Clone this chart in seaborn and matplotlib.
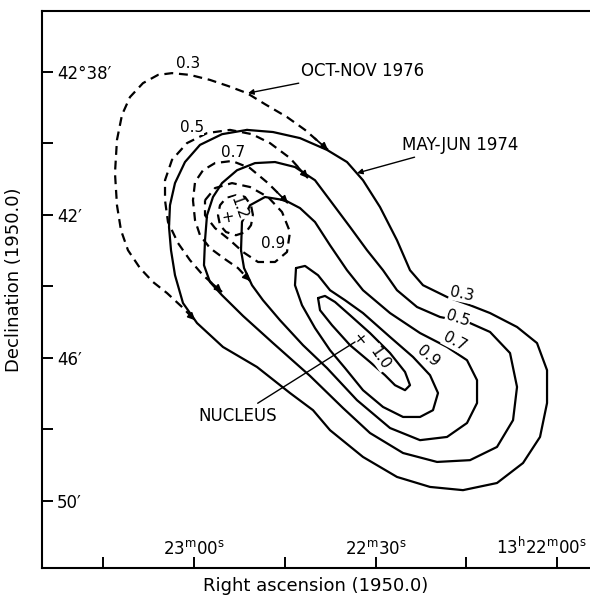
import matplotlib
matplotlib.use("Agg")
import matplotlib.pyplot as plt
import matplotlib.transforms as mtransforms
import seaborn as sns

# Contour paths.
# x = right ascension in seconds after 13h22m00s, y = declination in arcmin after 42d00'

# May-Jun 1974 (solid, closed)
may74_03 = [(51.24, 39.62), (46.94, 39.68), (42.48, 39.85), (38.02, 40.18), (34.71, 40.52),
            (32.07, 41.03), (29.26, 41.78), (26.45, 42.71), (24.30, 43.55), (22.15, 43.97),
            (18.18, 44.30), (14.38, 44.53), (11.07, 44.75), (6.61, 45.14), (3.31, 45.59),
            (1.65, 46.35), (1.65, 47.27), (2.81, 48.22), (5.62, 48.95), (9.92, 49.51),
            (15.54, 49.71), (20.99, 49.62), (26.45, 49.34), (32.07, 48.78), (37.52, 48.03),
            (40.33, 47.47), (44.13, 46.99), (49.59, 46.26), (55.21, 45.70), (59.50, 45.03),
            (61.82, 44.47), (63.14, 43.69), (63.80, 42.99), (64.13, 42.34), (63.97, 41.73),
            (63.14, 41.11), (61.49, 40.52), (59.01, 40.04), (55.37, 39.74)]
may74_05 = [(58.18, 42.71), (57.85, 42.01), (56.86, 41.50), (55.37, 41.11), (52.89, 40.75),
            (49.92, 40.55), (46.61, 40.52), (43.31, 40.66), (40.00, 41.03), (37.52, 41.59),
            (34.21, 42.34), (31.40, 42.99), (28.76, 43.55), (26.45, 44.11), (23.14, 44.58),
            (19.34, 44.86), (14.38, 45.03), (11.07, 45.28), (7.77, 45.87), (6.61, 46.82),
            (7.27, 47.75), (9.92, 48.50), (14.38, 48.87), (19.83, 48.92), (25.45, 48.67),
            (30.91, 48.11), (35.37, 47.41), (40.83, 46.51), (46.94, 45.59), (51.90, 44.83),
            (55.37, 44.25), (57.36, 43.88), (58.35, 43.41)]
may74_07 = [(52.23, 42.99), (52.07, 42.20), (50.74, 41.73), (48.26, 41.50), (44.96, 41.59),
            (42.48, 41.81), (40.00, 42.20), (37.52, 42.85), (34.71, 43.55), (32.07, 44.11),
            (27.60, 44.75), (22.64, 45.31), (18.18, 45.70), (14.88, 46.07), (13.22, 46.63),
            (13.22, 47.27), (14.88, 47.83), (18.18, 48.22), (22.64, 48.31), (27.60, 47.97),
            (33.06, 47.19), (38.02, 46.29), (41.98, 45.65), (45.79, 44.95), (48.60, 44.39),
            (50.41, 43.97), (51.73, 43.49)]
may74_09 = [(43.14, 43.49), (41.65, 43.43), (39.50, 43.69), (37.52, 44.11), (35.04, 44.39),
            (32.07, 44.75), (27.60, 45.42), (23.80, 45.98), (20.99, 46.49), (19.67, 46.99),
            (20.50, 47.47), (22.64, 47.66), (25.45, 47.66), (28.76, 47.38), (32.07, 46.91),
            (35.04, 46.29), (37.52, 45.79), (40.00, 45.17), (42.15, 44.53), (43.31, 43.97)]
may74_10 = [(39.50, 44.33), (38.35, 44.27), (36.69, 44.44), (34.21, 44.81), (30.91, 45.31),
            (27.60, 45.87), (25.12, 46.40), (24.30, 46.77), (25.12, 46.91), (26.78, 46.77),
            (28.43, 46.49), (30.91, 46.12), (34.21, 45.65), (37.19, 45.09), (39.17, 44.67)]

# Oct-Nov 1976 (dashed; the outer three run into the 1974 contours)
oct76_03 = [(37.85, 40.18), (41.65, 39.62), (44.63, 39.26), (48.26, 38.90), (51.24, 38.59),
            (54.38, 38.39), (57.36, 38.22), (60.66, 38.08), (63.64, 38.03), (65.95, 38.08),
            (68.43, 38.31), (70.58, 38.70), (71.90, 39.20), (72.73, 39.90), (73.06, 40.83),
            (72.73, 41.73), (72.07, 42.43), (70.91, 42.99), (68.93, 43.49), (66.78, 43.88),
            (64.46, 44.19), (61.98, 44.58), (59.83, 44.95)]
oct76_05 = [(41.16, 40.97), (44.13, 40.41), (47.44, 39.99), (50.41, 39.74), (54.05, 39.62),
            (57.85, 39.71), (61.16, 39.99), (63.64, 40.46), (64.79, 41.03), (64.79, 41.59),
            (64.30, 42.20), (62.64, 42.79), (60.66, 43.27), (58.51, 43.69), (55.37, 44.16)]
oct76_07 = [(44.46, 41.67), (47.77, 41.11), (50.74, 40.69), (53.72, 40.49), (56.53, 40.55),
            (58.51, 40.75), (59.83, 41.08), (60.17, 41.59), (59.83, 42.15), (59.01, 42.57),
            (57.36, 42.93), (54.88, 43.24), (52.73, 43.49), (50.74, 43.85)]
oct76_09 = [(58.18, 41.59), (56.53, 41.25), (53.72, 41.11), (50.74, 41.22), (47.77, 41.50),
            (45.45, 41.92), (44.13, 42.48), (44.63, 43.04), (46.61, 43.32), (49.42, 43.32),
            (51.90, 43.04), (54.05, 42.71), (56.53, 42.37), (58.18, 42.01)]
oct76_12 = [(50.25, 42.01), (50.58, 41.73), (51.57, 41.50), (53.06, 41.45), (54.71, 41.53),
            (55.70, 41.73), (56.03, 42.01), (55.70, 42.29), (54.71, 42.48), (53.06, 42.57),
            (51.40, 42.48), (50.58, 42.29)]

# contour labels: (text, x, y, rotation)
solid_labels = [("0.3", 15.70, 44.22, -12), ("0.5", 16.36, 44.89, -18),
                ("0.7", 16.86, 45.56, -28), ("0.9", 21.32, 45.96, -40),
                ("1.0", 29.26, 46.01, -55)]
dashed_labels = [("0.3", 60.99, 37.75, 0), ("0.5", 60.33, 39.54, 0),
                 ("0.7", 53.55, 40.24, 0), ("0.9", 46.94, 42.79, 0),
                 ("1.2", 52.56, 41.80, -70)]
peak_1976 = (54.38, 42.06)
peak_1974 = (32.40, 45.45)

ra_ticks = [75, 60, 45, 30, 15, 0]
ra_labels = ["", r"23$^{\mathrm{m}}$00$^{\mathrm{s}}$", "", r"22$^{\mathrm{m}}$30$^{\mathrm{s}}$", "",
             r"13$^{\mathrm{h}}$22$^{\mathrm{m}}$00$^{\mathrm{s}}$"]
dec_ticks = [38, 40, 42, 44, 46, 48, 50]
dec_labels = ["42°38′", "", "42′", "", "46′", "", "50′"]

sns.set_theme(style="white")
plt.rcParams["font.family"] = ["DejaVu Sans"]
plt.rcParams["mathtext.fontset"] = "dejavusans"
plt.rcParams["text.color"] = "black"

fig = plt.figure(figsize=(5.9, 5.98), dpi=100)
ax = fig.add_axes([0.0712, 0.0502, 0.9288, 0.9314])


def draw(path, closed=True, dashed=False):
    pts = path + path[:1] if closed else path
    sns.lineplot(x=[p[0] for p in pts], y=[p[1] for p in pts], sort=False, estimator=None,
                 color="black", linewidth=1.6, solid_joinstyle="round",
                 dash_joinstyle="round",
                 linestyle=(0, (4, 2.6)) if dashed else "-", ax=ax)


def end_arrow(tip, tail):
    ax.annotate("", xy=tip, xytext=tail,
                arrowprops=dict(arrowstyle="-|>", color="black", lw=1.3,
                                mutation_scale=10, shrinkA=9, shrinkB=0))


for c in [may74_03, may74_05, may74_07, may74_09, may74_10]:
    draw(c)
for c in [oct76_03, oct76_05, oct76_07]:
    draw(c, closed=False, dashed=True)
    end_arrow(c[0], c[1])
    end_arrow(c[-1], c[-2])
for c in [oct76_09, oct76_12]:
    draw(c, dashed=True)

for txt, x, y, rot in solid_labels:
    ax.text(x, y, txt, fontsize=11, rotation=rot, ha="center", va="center", color="black",
            bbox=dict(facecolor="white", edgecolor="none", pad=0.4))
for txt, x, y, rot in dashed_labels:
    ax.text(x, y, txt, fontsize=11, rotation=rot, ha="center", va="center", color="black",
            bbox=dict(facecolor="white", edgecolor="none", pad=0.2))
ax.text(*peak_1976, "+", fontsize=11, ha="center", va="center", rotation=10, color="black")
ax.text(*peak_1974, "+", fontsize=11, ha="center", va="center", rotation=40, color="black")

# annotations
ax.annotate("OCT-NOV 1976", xy=(51.07, 38.59), xytext=(42.3, 37.96), fontsize=12,
            ha="left", va="center", color="black",
            arrowprops=dict(arrowstyle="-|>", color="black", lw=1.0, mutation_scale=8,
                            shrinkA=1, shrinkB=0))
ax.annotate("MAY-JUN 1974", xy=(33.06, 40.83), xytext=(25.6, 40.03), fontsize=12,
            ha="left", va="center", color="black",
            arrowprops=dict(arrowstyle="-|>", color="black", lw=1.0, mutation_scale=8,
                            shrinkA=1, shrinkB=0))
ax.annotate("NUCLEUS", xy=(33.39, 45.56), xytext=(46.2, 47.62), fontsize=12,
            ha="right", va="center", color="black",
            arrowprops=dict(arrowstyle="-", color="black", lw=1.0, shrinkA=0, shrinkB=0))

ax.set_xlim(85.12, -5.45)
ax.set_ylim(51.89, 36.29)

ax.set_xticks(ra_ticks)
ax.set_xticklabels(ra_labels, fontsize=12)
ax.set_yticks(dec_ticks)
ax.set_yticklabels(dec_labels, fontsize=12)
ax.tick_params(axis="x", direction="in", length=8, width=1.4, pad=-7, bottom=True,
               colors="black")
ax.tick_params(axis="y", direction="in", length=8, width=1.4, pad=-10.8, left=True,
               colors="black")
for lab in ax.get_yticklabels():
    lab.set_horizontalalignment("left")
for lab in ax.get_xticklabels():
    lab.set_verticalalignment("bottom")
last = ax.get_xticklabels()[-1]
last.set_transform(last.get_transform() +
                   mtransforms.ScaledTranslation(-0.15, 0, fig.dpi_scale_trans))

ax.set_xlabel("Right ascension (1950.0)", fontsize=13, color="black")
ax.set_ylabel("Declination (1950.0)", fontsize=13, color="black")
ax.xaxis.set_label_coords(0.5, -0.016)
ax.yaxis.set_label_coords(-0.035, 0.517)

for side in ["left", "bottom", "top"]:
    ax.spines[side].set_color("black")
    ax.spines[side].set_linewidth(1.5)
ax.spines["right"].set_visible(False)

fig.savefig("out.png", dpi=100, facecolor="white")
